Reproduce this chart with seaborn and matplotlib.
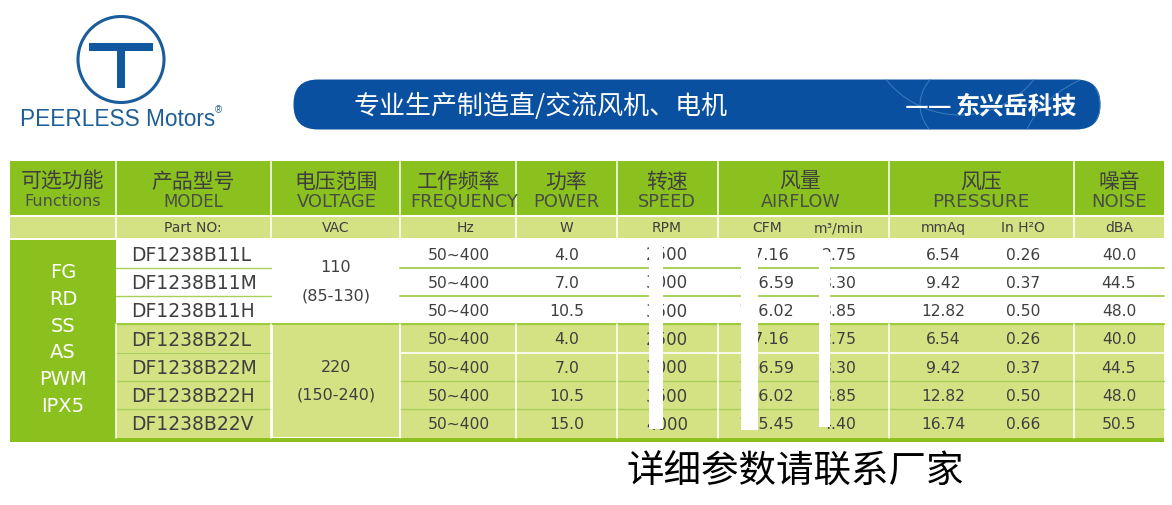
import numpy as np
import pandas as pd
import matplotlib
matplotlib.use('Agg')
import matplotlib.pyplot as plt
from matplotlib.colors import ListedColormap
from matplotlib.patches import Rectangle, Circle, FancyBboxPatch, Arc
import seaborn as sns

# --- data ---
head_cn = ['可选功能', '产品型号', '电压范围', '工作频率', '功率', '转速', '风量', '风压', '噪音']
head_en = ['Functions', 'MODEL', 'VOLTAGE', 'FREQUENCY', 'POWER', 'SPEED', 'AIRFLOW', 'PRESSURE', 'NOISE']
units = ['Part NO:', 'VAC', 'Hz', 'W', 'RPM', 'CFM', 'm³/min', 'mmAq', 'In H²O', 'dBA']
functions = ['FG', 'RD', 'SS', 'AS', 'PWM', 'IPX5']
models = ['DF1238B11L', 'DF1238B11M', 'DF1238B11H', 'DF1238B22L', 'DF1238B22M', 'DF1238B22H', 'DF1238B22V']
freq = ['50~400'] * 7
power = ['4.0', '7.0', '10.5', '4.0', '7.0', '10.5', '15.0']
speed = ['2500', '3000', '3500', '2500', '3000', '3500', '4000']
cfm = ['97.16', '116.59', '136.02', '97.16', '116.59', '136.02', '155.45']
m3min = ['2.75', '3.30', '3.85', '2.75', '3.30', '3.85', '4.40']
mmaq = ['6.54', '9.42', '12.82', '6.54', '9.42', '12.82', '16.74']
inh2o = ['0.26', '0.37', '0.50', '0.26', '0.37', '0.50', '0.66']
noise = ['40.0', '44.5', '48.0', '40.0', '44.5', '48.0', '50.5']
row_band = [0, 0, 0, 1, 1, 1, 1]

# --- layout, in pixels of the 1172x505 picture ---
W, H = 1172, 505
GREEN, LIGHT, BLUE = '#8AC11E', '#D5E284', '#0A50A0'
LINE = '#A8D05A'
DARK = '#3F3F3F'
col_edges = [116, 271, 400, 516, 617, 718, 889, 1074]
head_x_cn = [63, 193, 336, 459, 566, 667, 800, 981, 1119]
head_x_en = [63, 193, 337, 464, 566, 667, 801, 981, 1119]
head_en_size = [11.5, 12, 12.9, 12.8, 12.9, 12.8, 12.6, 13.3, 13]
unit_x = [193, 336, 465, 566, 667, 767, 839, 943, 1023, 1119]
body_x = [459, 567, 667, 766, 839, 943, 1023, 1119]
body_size = [11.2, 11.3, 12, 11.5, 11.3, 11.2, 11.2, 11.2]
top, bottom = 239.5, 437.5
row_h = (bottom - top) / 7

sns.set_theme(style='white')
plt.rcParams['font.family'] = ['DejaVu Sans', 'Noto Sans CJK SC']
CJK = ['Noto Sans CJK SC', 'DejaVu Sans']

fig = plt.figure(figsize=(W / 100, H / 100), dpi=100, facecolor='white')

# row bands of the table body go through a heatmap
ax_body = fig.add_axes([116 / W, 1 - bottom / H, (1164 - 116) / W, (bottom - top) / H])
bands = pd.DataFrame({'band': row_band}, index=models)
sns.heatmap(bands, ax=ax_body, cmap=ListedColormap(['white', LIGHT]), vmin=0, vmax=1,
            cbar=False, xticklabels=False, yticklabels=False)
ax_body.set_xlabel('')
ax_body.set_ylabel('')

# everything else sits on a see-through axes in pixel coordinates
ax = fig.add_axes([0, 0, 1, 1], facecolor='none')
ax.set_xlim(0, W)
ax.set_ylim(H, 0)
ax.axis('off')

# logo
ax.add_patch(Circle((121, 59.5), 43, fill=False, ec='#1A5C9C', lw=2.2))
ax.add_patch(Rectangle((89, 43), 64, 7.5, fc='#11589F', ec='none'))
ax.add_patch(Rectangle((117, 50), 8, 38, fc='#11589F', ec='none'))
ax.text(20, 120, 'PEERLESS Motors', family='Liberation Sans', fontsize=16.3, color='#1F5F97',
        va='center', ha='left')
ax.text(218, 110.5, '®', family='Liberation Sans', fontsize=7, color='#1F5F97', va='center', ha='center')

# banner
banner = FancyBboxPatch((294 + 24, 80 + 24), 806 - 48, 1, boxstyle='round,pad=24.5,rounding_size=24.5',
                        fc=BLUE, ec='none')
ax.add_patch(banner)
for xy, w, h in [((960, 20), 190, 190), ((1150, 160), 260, 190), ((1010, 105), 180, 110)]:
    arc = Arc(xy, w, h, color='#3C7CBC', lw=0.7)
    ax.add_patch(arc)
    arc.set_clip_path(banner)
ax.text(354, 106.5, '专业生产制造直/交流风机、电机', family=CJK, fontsize=18.7, color='white',
        ha='left', va='center')
ax.text(905, 106.5, '——', family=CJK, fontsize=19, color='white', weight='bold', ha='left', va='center')
ax.text(1077, 106.5, '东兴岳科技', family=CJK, fontsize=17.5, color='white', weight='bold',
        ha='right', va='center')

# header rows
ax.add_patch(Rectangle((10, 161), 1154, 54, fc=GREEN, ec='none'))
ax.add_patch(Rectangle((10, 217), 1154, 21, fc=LIGHT, ec='none'))
for x_cn, x_en, cn, en, size in zip(head_x_cn, head_x_en, head_cn, head_en, head_en_size):
    ax.text(x_cn, 181.5, cn, family=CJK, fontsize=15, color=DARK, ha='center', va='center')
    ax.text(x_en, 202, en, fontsize=size, color='#4A4F45', ha='center', va='center')
for x, u in zip(unit_x, units):
    ax.text(x, 228, u, fontsize=10, color=DARK, ha='center', va='center')

# functions cell
ax.add_patch(Rectangle((10, top), 106, bottom - top, fc=GREEN, ec='none'))
for i, f in enumerate(functions):
    ax.text(63, 272.5 + i * 26.8, f, fontsize=14, color='white', ha='center', va='center')

# row lines
for i in range(1, 7):
    y = top + i * row_h
    if i == 4:
        ax.plot([116, 271], [y, y], color=LINE, lw=0.8)
        ax.plot([400, 1164], [y, y], color='white', lw=1.2)
    else:
        ax.plot([116, 271], [y, y], color=LINE, lw=1.0)
        ax.plot([400, 1164], [y, y], color=LINE, lw=1.4 if i < 3 else 1.0)
ax.plot([116, 1164], [top + 3 * row_h] * 2, color='#9CCB3C', lw=1.4)

# voltage cells
ax.add_patch(Rectangle((272, top), 128, 3 * row_h + 1, fc='white', ec='none'))
ax.add_patch(Rectangle((272, top + 3 * row_h), 128, 4 * row_h, fc=LIGHT, ec='white', lw=1.4))
ax.text(336, 267, '110', fontsize=11.5, color=DARK, ha='center', va='center')
ax.text(336, 296, '(85-130)', fontsize=11.5, color=DARK, ha='center', va='center')
ax.text(336, 367, '220', fontsize=11.5, color=DARK, ha='center', va='center')
ax.text(336, 395, '(150-240)', fontsize=11.5, color=DARK, ha='center', va='center')

# column separators
for x in col_edges:
    ax.plot([x, x], [161, 238], color='white', lw=1.1)
    ax.plot([x, x], [top + 3 * row_h, bottom], color='white', lw=1.1)

# body values
columns = [freq, power, speed, cfm, m3min, mmaq, inh2o, noise]
for r, name in enumerate(models):
    y = top + (r + 0.5) * row_h + 1.5
    ax.text(131, y, name, fontsize=13.5, color=DARK, ha='left', va='center')
    for x, col, size in zip(body_x, columns, body_size):
        ax.text(x, y, col[r], fontsize=size, color=DARK, ha='center', va='center')

# bottom band
ax.add_patch(Rectangle((10, bottom + 0.5), 1154, 4, fc=GREEN, ec='none'))

# white strips laid over the table
for x0, x1, y0, y1 in [(649, 663, 240, 429), (741, 758, 240, 430), (819, 830, 252, 427)]:
    ax.add_patch(Rectangle((x0, y0), x1 - x0, y1 - y0, fc='white', ec='none', zorder=5))

ax.text(795.5, 472, '详细参数请联系厂家', family=CJK, fontsize=27, color='black', ha='center', va='center')

fig.savefig('out.png', dpi=100)
